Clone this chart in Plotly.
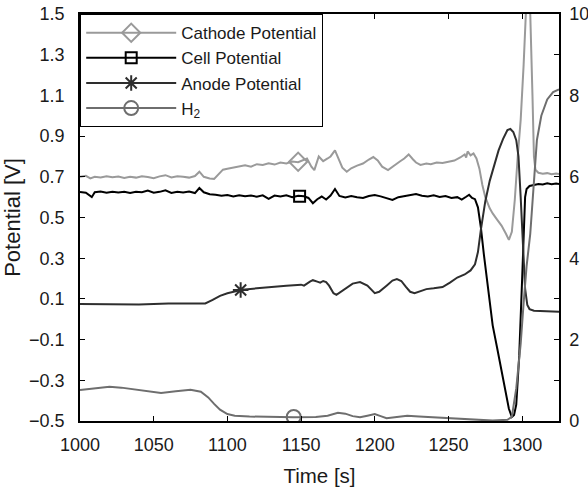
import plotly.graph_objects as go

# ---------------- data ----------------
cell_t = [1000,1004,1008,1010,1014,1018,1022,1026,1030,1034,1038,1042,1046,1050,1054,1058,1062,1066,1070,1074,1078,1081,1084,
          1088,1092,1096,1100,1104,1108,1112,1116,1120,1124,1128,1132,1136,1140,1144,1148,1152,1155,1158,1161,1164,1167,1170,
          1173,1176,1180,1184,1188,1192,1196,1200,1204,1208,1212,1216,1220,1224,1228,1232,1236,1240,1244,1248,1252,1256,1259,
          1262,1264,1266,1268,1270,1272,1274,1276,1278,1280,1283,1286,1289,1291,1293,1294.5,1296,1298,1300,1301,1302,1303,1305,
          1308,1311,1314,1317,1320,1323,1325]
cell_v = [0.625,0.622,0.600,0.624,0.628,0.622,0.627,0.623,0.626,0.621,0.627,0.624,0.632,0.622,0.626,0.634,0.621,0.627,0.623,0.628,0.620,0.645,0.624,
          0.614,0.612,0.607,0.610,0.603,0.609,0.604,0.608,0.602,0.609,0.592,0.608,0.603,0.609,0.600,0.607,0.604,0.596,0.570,0.590,0.603,0.588,0.608,
          0.640,0.606,0.598,0.605,0.600,0.596,0.606,0.611,0.604,0.596,0.586,0.600,0.604,0.609,0.615,0.607,0.603,0.609,0.601,0.605,0.596,0.600,0.588,
          0.602,0.612,0.596,0.590,0.550,0.450,0.320,0.200,0.060,-0.030,-0.140,-0.260,-0.370,-0.440,-0.480,-0.470,-0.420,-0.180,0.200,0.450,0.600,0.640,0.655,
          0.660,0.665,0.662,0.668,0.664,0.667,0.665]

cath_t = [1000,1004,1007,1010,1014,1018,1022,1026,1030,1034,1038,1042,1046,1050,1054,1058,1062,1066,1070,1074,1078,1081,1084,1088,1091,
          1094,1097,1100,1104,1108,1112,1116,1120,1124,1128,1132,1136,1140,1144,1148,1151,1154,1157,1159,1162,1165,1168,1170,1173,1176,
          1178,1181,1184,1188,1192,1196,1199,1202,1205,1209,1213,1217,1220,1223,1226,1228,1231,1235,1238,1242,1246,1250,1254,1258,1261,
          1262,1263,1265,1267,1269,1271,1273,1275,1278,1280,1283,1286,1289,1291,1293,1295,1297,1299,1301,1302.5,1304,1305.5,1307,1308,
          1309,1311,1314,1317,1320,1323,1325]
cath_v = [0.700,0.705,0.692,0.700,0.697,0.703,0.698,0.701,0.694,0.700,0.696,0.703,0.699,0.693,0.702,0.708,0.697,0.703,0.700,0.696,0.704,0.725,0.700,0.692,0.690,
          0.712,0.735,0.740,0.745,0.752,0.757,0.750,0.762,0.758,0.766,0.760,0.770,0.766,0.775,0.772,0.780,0.790,0.750,0.733,0.800,0.777,0.790,0.800,0.830,0.780,
          0.745,0.725,0.742,0.755,0.765,0.785,0.797,0.780,0.750,0.733,0.752,0.775,0.790,0.810,0.785,0.770,0.758,0.765,0.762,0.770,0.768,0.775,0.780,0.795,0.810,
          0.795,0.825,0.805,0.815,0.790,0.740,0.660,0.600,0.545,0.520,0.490,0.460,0.420,0.390,0.430,0.586,0.800,0.980,1.250,1.500,1.520,1.500,1.100,0.800,
          0.735,0.720,0.715,0.718,0.713,0.716,0.714]

anode_t = [1000,1020,1040,1060,1080,1085,1090,1095,1100,1105,1110,1120,1130,1140,1150,1152,1156,1158,1161,1163,1165,1167,1169,1172,1174,
           1177,1181,1185,1190,1195,1200,1203,1208,1212,1215,1218,1221,1224,1227,1231,1235,1240,1246,1251,1256,1261,1265,1268,1270,
           1272,1275,1278,1281,1284,1287,1290,1292,1294,1296,1297.5,1299,1300.5,1302,1303.5,1305,1308,1312,1318,1325]
anode_v = [0.075,0.074,0.073,0.078,0.077,0.078,0.095,0.115,0.128,0.138,0.145,0.152,0.160,0.165,0.170,0.165,0.185,0.192,0.185,0.180,0.188,0.183,0.165,0.128,0.120,
           0.135,0.155,0.175,0.183,0.165,0.128,0.135,0.165,0.190,0.197,0.188,0.160,0.135,0.128,0.140,0.148,0.152,0.158,0.180,0.205,0.220,0.240,0.270,0.330,
           0.440,0.580,0.680,0.760,0.830,0.885,0.930,0.935,0.920,0.880,0.800,0.600,0.350,0.150,0.070,0.050,0.042,0.040,0.038,0.037]

h2_t = [1000,1010,1020,1028,1035,1045,1055,1065,1075,1082,1087,1091,1095,1100,1105,1115,1130,1145,1160,1168,1175,1180,1185,1190,1195,
        1200,1204,1208,1215,1222,1230,1240,1250,1260,1270,1280,1290,1293,1296,1299,1301,1303,1305.5,1308,1310,1313,1317,1321,1325]
h2_v = [0.76,0.80,0.84,0.82,0.79,0.74,0.69,0.73,0.77,0.72,0.58,0.42,0.28,0.17,0.13,0.11,0.10,0.09,0.10,0.13,0.20,0.18,0.12,0.09,0.13,
        0.17,0.12,0.07,0.10,0.13,0.11,0.09,0.06,0.04,0.02,0.01,0.03,0.10,0.80,1.90,2.90,3.80,4.60,6.00,6.90,7.50,7.90,8.08,8.15]

# single marker on each curve
mark_cath = (1148, 0.774)
mark_cell = (1149, 0.605)
mark_anode = (1109, 0.144)
mark_h2 = (1145, 0.10)

names = ["Cathode Potential", "Cell Potential", "Anode Potential", "H<sub>2</sub>"]

left_ticks = [-0.5, -0.3, -0.1, 0.1, 0.3, 0.5, 0.7, 0.9, 1.1, 1.3, 1.5]
left_text = ["\u22120.5", "\u22120.3", "\u22120.1", "0.1", "0.3", "0.5", "0.7", "0.9", "1.1", "1.3", "1.5"]
right_ticks = [0, 2, 4, 6, 8, 10]
right_text = ["0", "2", "4", "6", "8", "10"]
right_minor = [1, 3, 5, 7, 9]
x_ticks = [1000, 1050, 1100, 1150, 1200, 1250, 1300]

# ---------------- styles ----------------
C_CATH = "#9a9a9a"
C_CELL = "#000000"
C_ANODE = "#2e2e2e"
C_H2 = "#6e6e6e"
LW = 2

FONT = "Liberation Sans, Arial, Helvetica, sans-serif"

fig = go.Figure()

series = [
    (cath_t, cath_v, C_CATH, "diamond-open", 14, mark_cath, "y", names[0]),
    (cell_t, cell_v, C_CELL, "square-open", 11, mark_cell, "y", names[1]),
    (anode_t, anode_v, C_ANODE, "asterisk-open", 13, mark_anode, "y", names[2]),
    (h2_t, h2_v, C_H2, "circle-open", 14, mark_h2, "y2", names[3]),
]

for i, (t, v, col, sym, ms, mk, ya, nm) in enumerate(series):
    fig.add_trace(go.Scatter(x=t, y=v, mode="lines", line=dict(color=col, width=LW),
                             yaxis=ya, showlegend=False, legendgroup=f"g{i}", hoverinfo="skip"))
for i, (t, v, col, sym, ms, mk, ya, nm) in enumerate(series):
    fig.add_trace(go.Scatter(x=[mk[0]], y=[mk[1]], mode="lines+markers", name=nm,
                             line=dict(color=col, width=LW),
                             marker=dict(symbol=sym, size=ms, color=col, line=dict(color=col, width=2)),
                             yaxis=ya, legendgroup=f"g{i}"))

axis_common = dict(showline=True, linecolor="black", linewidth=1.5, ticks="inside", ticklen=5,
                   tickcolor="black", tickwidth=1.2, showgrid=False, zeroline=False, automargin=False,
                   tickfont=dict(family=FONT, size=18, color="#1a1a1a"))

fig.update_layout(
    width=588, height=487,
    margin=dict(l=80, r=29, t=14, b=66, autoexpand=False),
    paper_bgcolor="white", plot_bgcolor="white",
    font=dict(family=FONT, color="#1a1a1a"),
    xaxis=dict(range=[1000, 1325], tickvals=x_ticks, mirror="ticks",
               title=dict(text="Time [s]", font=dict(size=20.5, family=FONT), standoff=15),
               ticklabelstandoff=7, **axis_common),
    yaxis=dict(range=[-0.5, 1.5], tickvals=left_ticks, ticktext=left_text,
               title=dict(text="Potential [V]", font=dict(size=22, family=FONT), standoff=6),
               ticklabelstandoff=10, **axis_common),
    yaxis2=dict(range=[0, 10], tickvals=right_ticks, ticktext=right_text, overlaying="y", side="right",
                ticklabelstandoff=5,
                minor=dict(tickvals=right_minor, ticks="inside", ticklen=5, tickcolor="black", tickwidth=1.2),
                **axis_common),
    legend=dict(x=0, y=1, xanchor="left", yanchor="top", bordercolor="black", borderwidth=1.2,
                bgcolor="white", font=dict(family=FONT, size=17, color="#1a1a1a"),
                itemwidth=90, tracegroupgap=0, traceorder="normal"),
)

fig.write_html("out.html", config={"displayModeBar": False},
               post_script="document.body.style.margin='0';document.body.style.padding='0';")
